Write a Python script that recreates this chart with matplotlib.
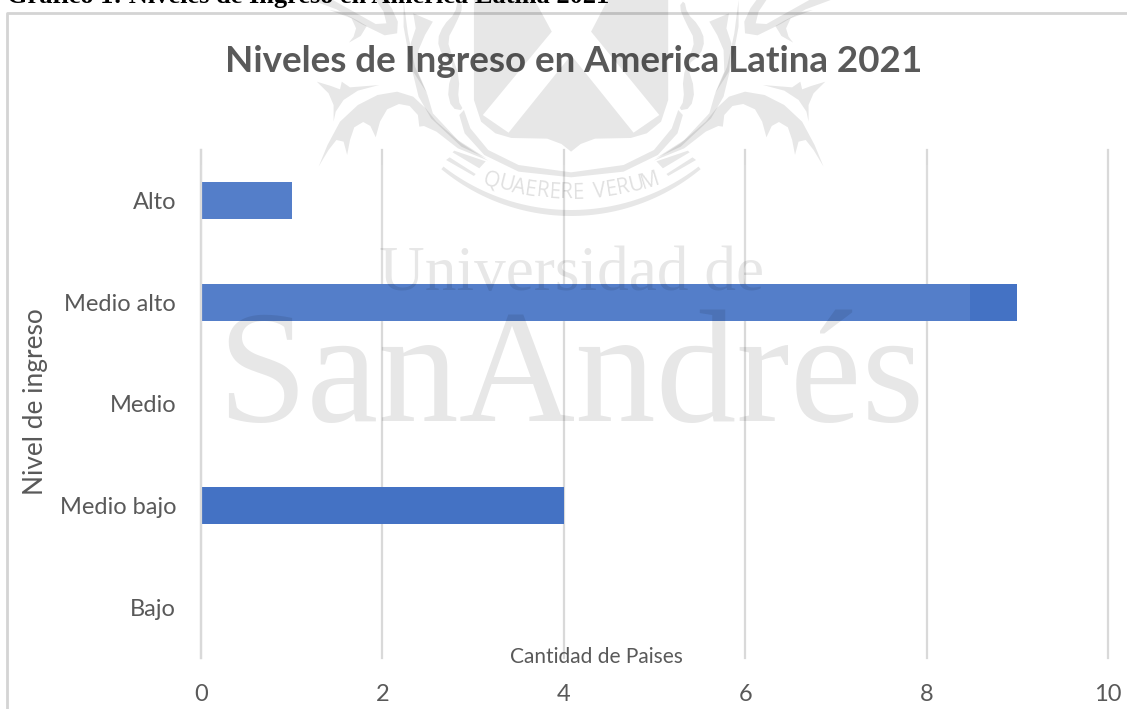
import numpy as np
import matplotlib
matplotlib.use("Agg")
import matplotlib.pyplot as plt
from matplotlib.patches import Polygon, PathPatch, Rectangle
from matplotlib.path import Path
from matplotlib.transforms import Affine2D

plt.rcParams['font.family'] = ['Lato', 'DejaVu Sans']

W, H = 1127, 709

# ---- data ----
niveles = ["Bajo", "Medio bajo", "Medio", "Medio alto", "Alto"]
paises = [0, 4, 0, 9, 1]
x_ticks = [0, 2, 4, 6, 8, 10]

TEXT_GRAY = "#595959"
GRID_GRAY = "#d9d9d9"
BAR_BLUE = "#4472c4"
MARK = (0, 0, 0, 0.095)

fig = plt.figure(figsize=(W / 100, H / 100), dpi=100, facecolor="white")
ax = fig.add_axes([201 / W, 1 - 658 / H, (1108 - 201) / W, (658 - 150) / H])

ax.barh(range(len(niveles)), paises, height=0.365, color=BAR_BLUE, zorder=3)
ax.set_xlim(0, 10)
ax.set_ylim(-0.5, 4.5)
ax.set_xticks(x_ticks)
ax.set_yticks(range(len(niveles)))
ax.set_yticklabels(niveles)
ax.grid(axis="x", color=GRID_GRAY, lw=1.6, zorder=0, clip_on=False)
ax.axvline(0, color=GRID_GRAY, lw=1.6, zorder=4, clip_on=False)
ax.tick_params(axis="both", length=0, colors=TEXT_GRAY)
ax.tick_params(axis="x", labelsize=17, pad=19)
ax.tick_params(axis="y", labelsize=17, pad=18)
for side in ax.spines.values():
    side.set_visible(False)

fig.text(596 / W, 1 - 657 / H, "Cantidad de Paises", color=TEXT_GRAY, fontsize=15,
         ha="center", va="center")
fig.text(36 / W, 1 - 402 / H, "Nivel de ingreso", color=TEXT_GRAY, fontsize=18.9,
         rotation=90, ha="center", va="center")
fig.text(574 / W, 1 - 61 / H, "Niveles de Ingreso en America Latina 2021", color=TEXT_GRAY,
         fontsize=26.5, fontweight="bold", ha="center", va="center")

# caption above the chart frame, running off the top edge
fig.text(7 / W, 1 + 3 / H, "Gráfico 1: Niveles de Ingreso en America Latina 2021",
         family="Liberation Serif", fontweight="bold", fontsize=19, color="black",
         ha="left", va="center")

# chart frame
px = Affine2D().scale(1, -1).translate(0, H)
fig.add_artist(plt.Line2D([7, 7, W], [H, 13, 13], transform=px, color="#d4d4d4", lw=2))

# ---- university watermark, laid over the chart ----
fig.add_artist(Rectangle((201, 165), 769, 158, transform=px, facecolor="white",
                         alpha=0.09, edgecolor="none", zorder=5))

AXIS = 787


def to_px(points):
    # crest outlines are written on a 2.8 x 3 grid, 290 px in from the left
    return [(290 + x / 2.8, y / 3) for x, y in points]


def smooth(points, rounds=2):
    pts = np.array(points, dtype=float)
    for _ in range(rounds):
        a, b = pts, np.roll(pts, -1, axis=0)
        pts = np.column_stack([0.75 * a + 0.25 * b, 0.25 * a + 0.75 * b]).reshape(-1, 2)
    return [tuple(p) for p in pts]


def blob(points):
    fig.add_artist(Polygon(to_px(points), closed=True, transform=px, facecolor=MARK,
                           edgecolor="none", zorder=6))


def mirrored(points):
    blob(points)
    blob([(2 * AXIS - x, y) for x, y in points])


# shield, with the saltire cut out of it
left_side = [(515, -40), (515, 300), (535, 365), (575, 400), (620, 414), (720, 416), (760, 432)]
shield = left_side + [(AXIS, 455)] + [(2 * AXIS - x, y) for x, y in left_side[::-1]]
saltire = [(680, -10), (733, 95), (540, 345), (612, 398), (787, 165), (962, 398), (1034, 345),
           (843, 95), (894, -10)]
shield_path = Path.make_compound_path(Path(to_px(shield), closed=False),
                                      Path(to_px(saltire[::-1]), closed=False))
fig.add_artist(PathPatch(shield_path, transform=px, facecolor=MARK,
                         edgecolor="none", zorder=6))

# band running round the shield
band = [(487, 330), (505, 385), (555, 450), (640, 495), (787, 517), (934, 495), (1019, 450),
        (1069, 385), (1087, 330), (1100, 345), (1085, 400), (1030, 465), (934, 515), (787, 532),
        (640, 515), (544, 465), (489, 400), (474, 345)]
blob(band)

# thin stem rising either side of the shield, then the lobes around it
mirrored([(318, 0), (330, 100), (350, 200), (385, 285), (400, 340), (470, 420), (550, 475),
          (480, 440), (395, 355), (360, 290), (335, 180), (318, 80)])
mirrored(smooth([(470, 0), (462, 40), (430, 75), (412, 120), (425, 165), (462, 195), (440, 270),
                 (452, 325), (487, 332), (470, 300), (475, 235), (455, 170), (440, 120),
                 (465, 70), (485, 20)], 1))
mirrored([(345, 40), (400, 65), (378, 105), (360, 150), (358, 215), (385, 282), (345, 215),
          (338, 130), (352, 85)])

# thistle branches
mirrored([(80, 500), (105, 435), (140, 365), (190, 315), (245, 285), (300, 275), (345, 290),
          (380, 325), (410, 365), (480, 430), (555, 482), (470, 445), (410, 395), (375, 378),
          (362, 380), (358, 345), (335, 318), (305, 312), (272, 328), (252, 365), (240, 412),
          (225, 378), (205, 366), (180, 382), (168, 420), (160, 465), (150, 425), (130, 420),
          (108, 450)])
mirrored([(75, 245), (115, 258), (140, 268), (145, 245), (168, 262), (250, 255), (190, 272),
          (150, 300), (128, 335), (122, 365), (122, 315), (108, 280)])
mirrored([(60, 0), (130, 28), (200, 72), (265, 106), (300, 100), (302, 65), (285, 25), (268, 0),
          (240, 0), (262, 35), (270, 70), (240, 72), (170, 30), (120, 0)])
mirrored([(110, 30), (172, 55), (185, 85), (178, 110), (165, 128), (198, 108), (215, 78),
          (190, 62), (140, 35)])

# motto ribbon and the short strokes at its ends
t = np.linspace(np.radians(50.3), np.radians(129.7), 80)
taper = np.sin(np.linspace(0.6, np.pi - 0.6, 80))
outer = [(571 + 203 * np.cos(a), 13 + 203 * np.sin(a)) for a in t]
inner = [(571 + (203 - 6 * k) * np.cos(a), 13 + (203 - 6 * k) * np.sin(a))
         for a, k in zip(t[::-1], taper[::-1])]
fig.add_artist(Polygon(outer + inner, closed=True, transform=px, facecolor=MARK,
                       edgecolor="none", zorder=6))
mirrored([(437, 480), (515, 528), (520, 522), (447, 472)])
mirrored([(455, 457), (530, 505), (548, 484), (460, 452)])

motto = "QUAERERE VERUM"
cx, cy, radius = 571, -73, 266
widths = [15, 14, 13, 12, 12, 12, 12, 12, 8, 13, 12, 12, 14, 16]
pos = np.cumsum(widths) - np.array(widths) / 2
pos = pos - pos[-1] / 2 - widths[0] / 4
for ch, s in zip(motto, pos):
    ang = np.pi / 2 - s / radius
    fig.text((cx + radius * np.cos(ang)) / W, 1 - (cy + radius * np.sin(ang)) / H, ch,
             color=(0, 0, 0, 0.12), fontsize=15, family="Open Sans", ha="center", va="center",
             rotation=90 - np.degrees(ang), zorder=6)

fig.text(572 / W, 1 - 290 / H, "Universidad de", family="Liberation Serif", fontsize=45.5,
         color=MARK, ha="center", va="baseline", zorder=6)
fig.text(571 / W, 1 - 421 / H, "SanAndrés", family="Liberation Serif", fontsize=116,
         color=MARK, ha="center", va="baseline", zorder=6)

fig.savefig("out.png", dpi=100, facecolor="white")
